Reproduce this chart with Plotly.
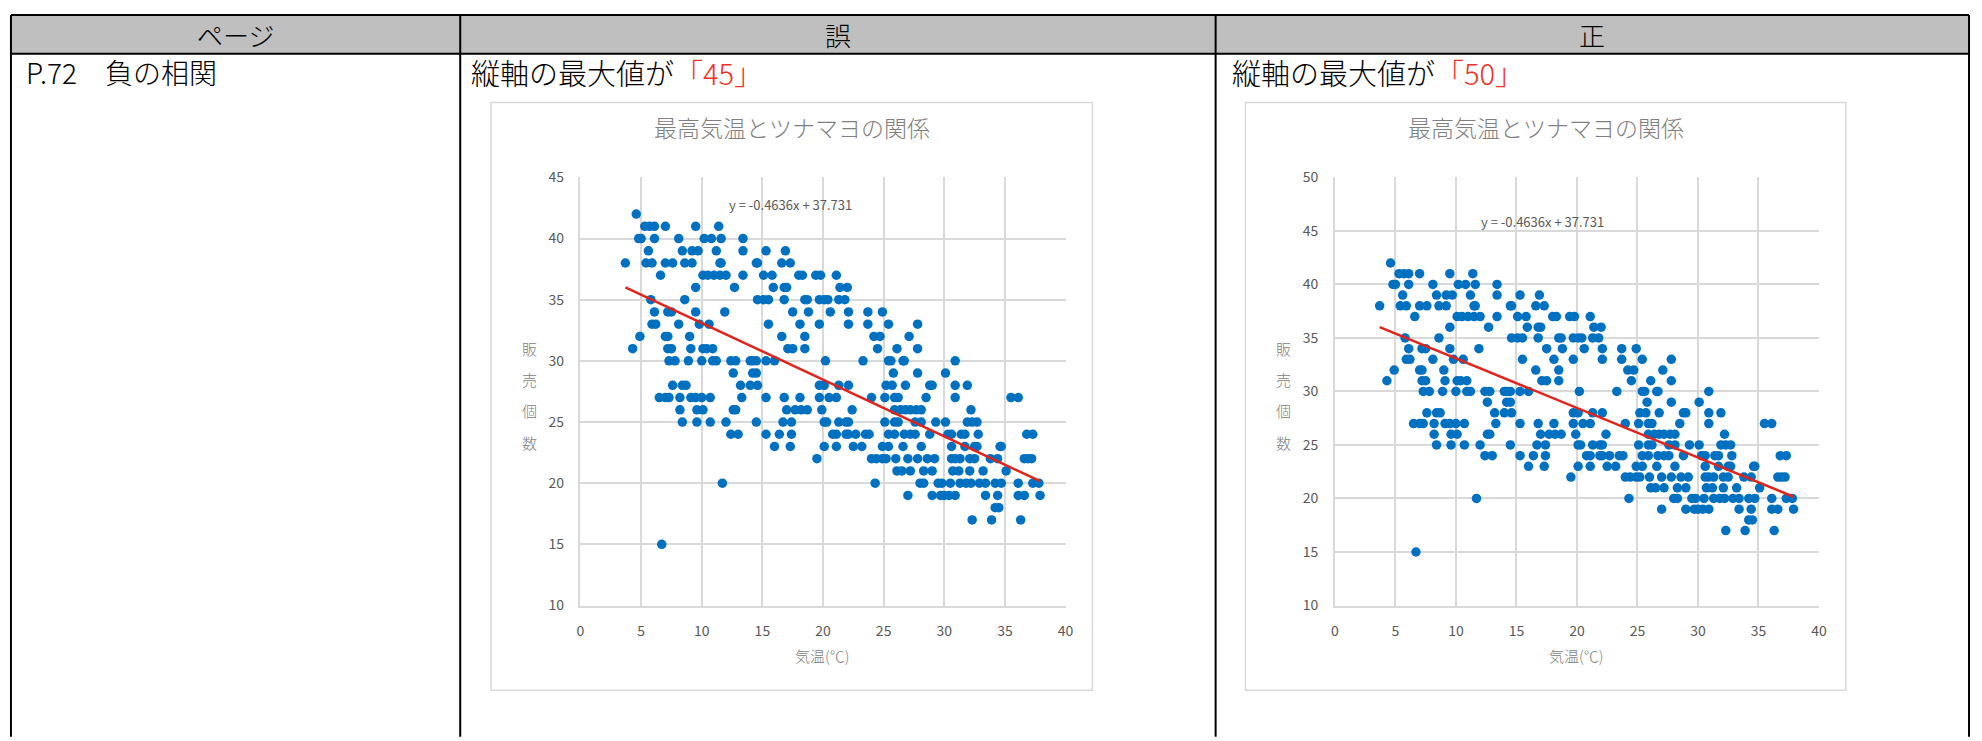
import plotly.graph_objects as go

W, H = 1982, 741

# ---- data ----
sales_levels = [42, 41, 40, 39, 38, 37, 36, 35, 34, 33, 32, 31, 30, 29, 28, 27,
                26, 25, 24, 23, 22, 21, 20, 19, 18, 17, 15]
temps_by_level = [
    [4.6],
    [5.3, 5.7, 6.1, 7.0, 9.5, 11.4],
    [4.8, 5.0, 6.1, 8.1, 10.2, 10.8, 11.6, 13.4],
    [5.6, 8.4, 9.2, 9.7, 11.2, 13.4, 15.3, 16.9],
    [3.7, 5.4, 5.9, 7.0, 7.6, 8.6, 9.2, 11.5, 11.6, 14.5, 14.6, 16.6, 17.3],
    [6.6, 10.1, 10.5, 11.0, 11.5, 12.0, 13.4, 15.1, 15.8, 18.0, 18.3, 19.4, 19.8, 21.1],
    [9.5, 12.7, 15.9, 16.8, 17.0, 21.4, 22.0],
    [5.8, 8.6, 14.6, 15.1, 15.5, 16.8, 18.5, 18.7, 19.7, 20.1, 20.4, 21.3, 21.8],
    [6.1, 7.2, 7.5, 9.5, 11.9, 17.5, 18.8, 20.6, 22.1, 23.7, 24.9],
    [5.9, 6.2, 8.1, 9.8, 10.6, 15.5, 18.1, 19.7, 22.1, 23.7, 25.4, 27.8],
    [4.9, 7.0, 7.2, 9.0, 16.6, 18.5, 24.2, 24.7, 27.1],
    [4.3, 7.2, 7.5, 9.1, 10.1, 10.4, 10.9, 17.1, 17.5, 18.5, 24.5, 26.1, 27.8],
    [7.3, 7.8, 8.9, 10.0, 10.9, 11.2, 12.4, 12.8, 14.0, 14.2, 14.5, 15.3, 16.0, 20.2,
     23.3, 25.4, 25.6, 26.6, 26.7, 30.9],
    [12.6, 14.2, 14.5, 25.8, 27.8, 30.1],
    [7.6, 8.4, 8.7, 13.2, 14.0, 14.6, 19.7, 20.1, 21.3, 22.1, 25.2, 25.7, 26.8, 28.8,
     29.0, 30.9, 31.9],
    [6.5, 7.0, 7.3, 8.2, 9.1, 9.5, 10.0, 10.7, 13.3, 15.3, 16.8, 18.1, 19.7, 20.5, 21.1,
     24.0, 25.1, 25.9, 26.2, 28.5, 30.9, 35.5, 36.1],
    [8.2, 9.6, 10.1, 12.6, 12.8, 17.0, 17.7, 18.2, 18.7, 19.9, 22.4, 25.9, 26.4, 26.8,
     27.2, 27.7, 28.1, 32.2],
    [8.4, 9.6, 10.7, 12.0, 14.5, 16.7, 17.4, 20.1, 20.3, 21.3, 21.9, 22.1, 25.1, 25.9,
     26.2, 27.6, 28.1, 29.3, 30.1, 31.9, 32.3, 32.7],
    [12.4, 13.0, 15.3, 16.4, 17.4, 20.8, 21.1, 21.9, 22.1, 22.7, 23.5, 23.8, 25.4, 25.9,
     26.7, 27.2, 27.6, 28.8, 30.3, 30.6, 31.4, 31.7, 32.8, 36.8, 37.3],
    [16.0, 17.3, 20.1, 21.1, 22.5, 23.2, 24.9, 25.4, 26.6, 28.1, 30.6, 31.7, 32.5, 32.7,
     34.6, 34.7],
    [19.5, 24.0, 24.4, 24.9, 25.2, 26.0, 27.0, 27.8, 28.6, 29.2, 30.6, 30.9, 31.3, 32.1,
     32.5, 33.8, 34.4, 36.6, 36.9, 37.2],
    [26.1, 26.5, 27.2, 28.3, 29.0, 30.7, 31.2, 32.1, 33.2, 35.1],
    [11.7, 24.3, 28.0, 28.3, 29.5, 29.8, 30.5, 31.3, 31.8, 32.2, 32.9, 33.4, 34.2, 34.7,
     36.1, 37.3, 37.8],
    [27.0, 29.0, 29.7, 30.0, 30.4, 30.9, 33.4, 34.4, 36.1, 36.6, 37.9],
    [34.2, 34.5],
    [32.3, 33.9, 36.3],
    [6.7],
]
trend_slope = -0.4636
trend_intercept = 37.731

header_labels = ["ページ", "誤", "正"]
page_label = "P.72\u3000負の相関"
note_prefix = "縦軸の最大値が"
wrong_max = 45
right_max = 50
chart_title = "最高気温とツナマヨの関係"
x_title = "気温(℃)"
y_title_chars = ["販", "売", "個", "数"]
equation_text = "y = -0.4636x + 37.731"

temps = [t for lv, row in zip(sales_levels, temps_by_level) for t in row]
sales = [lv for lv, row in zip(sales_levels, temps_by_level) for _ in row]
x_lo, x_hi = min(temps), max(temps)
trend_x = [x_lo, x_hi]
trend_y = [trend_slope * v + trend_intercept for v in trend_x]

# ---- helpers ----
def px(x):
    return x / W

def py(y):
    return 1 - y / H

FONT = "Noto Sans CJK JP, Noto Sans, sans-serif"
BLUE = "#0070c0"
RED = "#e0241c"
GRID = "#d9d9d9"
GRAYTXT = "#595959"
TITLEGRAY = "#808080"

fig = go.Figure()

panels = [
    dict(xa="x", ya="y", xd=[px(580), px(1068)], ymax=wrong_max,
         box=(490, 94, 1095, 698), eq=(791, 199), ytx=529, xtx=823),
    dict(xa="x2", ya="y2", xd=[px(1339), px(1826)], ymax=right_max,
         box=(1249, 94, 1853, 698), eq=(1548, 216), ytx=1287, xtx=1582),
]

ydom = [py(611), py(171)]
shapes = []
annotations = []

for i, p in enumerate(panels):
    fig.add_trace(go.Scatter(x=temps, y=sales, mode="markers", xaxis=p["xa"], yaxis=p["ya"],
                             marker=dict(color=BLUE, size=9.5, line=dict(width=0)),
                             showlegend=False, hoverinfo="skip"))
    fig.add_trace(go.Scatter(x=trend_x, y=trend_y, mode="lines", xaxis=p["xa"], yaxis=p["ya"],
                             line=dict(color=RED, width=2.5), showlegend=False,
                             hoverinfo="skip"))
    axkey = "" if i == 0 else "2"
    fig.update_layout(**{
        "xaxis" + axkey: dict(domain=p["xd"], range=[0, 40], dtick=5, tick0=0,
                              showgrid=True, gridcolor=GRID, gridwidth=1.5,
                              zeroline=False, showline=True, linecolor=GRID, linewidth=1.5,
                              mirror=False, ticks="", ticklabelstandoff=12,
                              tickfont=dict(family=FONT, size=14, color=GRAYTXT),
                              anchor="y" + axkey, fixedrange=True),
        "yaxis" + axkey: dict(domain=ydom, range=[10, p["ymax"]], dtick=5, tick0=10,
                              showgrid=True, gridcolor=GRID, gridwidth=1.5,
                              zeroline=False, showline=True, linecolor=GRID, linewidth=1.5,
                              ticks="", ticklabelstandoff=12,
                              tickfont=dict(family=FONT, size=14, color=GRAYTXT),
                              anchor="x" + axkey, fixedrange=True),
    })
    x0, y0, x1, y1 = p["box"]
    shapes.append(dict(type="rect", xref="paper", yref="paper", x0=px(x0), x1=px(x1),
                       y0=py(y1), y1=py(y0), line=dict(color=GRID, width=1.5),
                       fillcolor="rgba(0,0,0,0)", layer="below"))
    cx = (x0 + x1) / 2
    annotations.append(dict(text=chart_title, xref="paper", yref="paper", x=px(cx), y=py(119),
                            xanchor="center", yanchor="middle", showarrow=False,
                            font=dict(family=FONT, size=23, color=TITLEGRAY, weight=300)))
    annotations.append(dict(text=equation_text, xref="paper", yref="paper",
                            x=px(p["eq"][0]), y=py(p["eq"][1]), xanchor="center",
                            yanchor="middle", showarrow=False,
                            font=dict(family=FONT, size=13, color=GRAYTXT)))
    for k, ch in enumerate(y_title_chars):
        annotations.append(dict(text=ch, xref="paper", yref="paper", x=px(p["ytx"]),
                                y=py(347 + 32 * k), xanchor="center", yanchor="middle",
                                showarrow=False,
                                font=dict(family=FONT, size=15, color=TITLEGRAY, weight=300)))
    annotations.append(dict(text=x_title, xref="paper", yref="paper", x=px(p["xtx"]), y=py(662),
                            xanchor="center", yanchor="middle", showarrow=False,
                            font=dict(family=FONT, size=15, color=TITLEGRAY, weight=300)))

# ---- table frame ----
TL, TT, TR = 7, 4, 1977
HB = 44
cols = [TL, 459, 1219, TR]
shapes.append(dict(type="rect", xref="paper", yref="paper", x0=px(TL), x1=px(TR),
                   y0=py(HB), y1=py(TT), fillcolor="#bfbfbf", line=dict(width=0),
                   layer="below"))
for yy in (TT, HB):
    shapes.append(dict(type="line", xref="paper", yref="paper", x0=px(TL), x1=px(TR),
                       y0=py(yy), y1=py(yy), line=dict(color="black", width=2)))
for xx in cols:
    shapes.append(dict(type="line", xref="paper", yref="paper", x0=px(xx), x1=px(xx),
                       y0=py(H + 5), y1=py(TT), line=dict(color="black", width=2)))

for j, lab in enumerate(header_labels):
    annotations.append(dict(text=lab, xref="paper", yref="paper",
                            x=px((cols[j] + cols[j + 1]) / 2), y=py(24), xanchor="center",
                            yanchor="middle", showarrow=False,
                            font=dict(family=FONT, size=26, color="black", weight=300)))

annotations.append(dict(text=page_label, xref="paper", yref="paper", x=px(20), y=py(63),
                        xanchor="left", yanchor="middle", showarrow=False,
                        font=dict(family=FONT, size=28, color="black", weight=300)))
for xx, val in ((468, wrong_max), (1233, right_max)):
    annotations.append(dict(text=f"{note_prefix}<span style='color:#ee3124'>「{val}」</span>",
                            xref="paper", yref="paper", x=px(xx), y=py(63), xanchor="left",
                            yanchor="middle", showarrow=False,
                            font=dict(family=FONT, size=29, color="black", weight=300)))

fig.update_layout(width=W, height=H, margin=dict(l=0, r=0, t=0, b=0),
                  paper_bgcolor="white", plot_bgcolor="white",
                  shapes=shapes, annotations=annotations, showlegend=False)

fig.write_html("out.html", config={"displayModeBar": False},
               post_script="document.body.style.margin='0';document.body.style.overflow='hidden';")
